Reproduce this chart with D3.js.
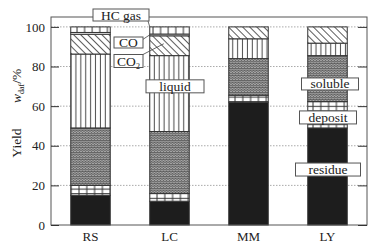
<!DOCTYPE html>
<html><head><meta charset="utf-8">
<script src="https://cdn.jsdelivr.net/npm/d3@7"></script>
<style>body{margin:0;background:#fff}svg{display:block}svg text{font-family:"Liberation Serif","Times New Roman",serif !important;fill:#222}</style>
</head><body>
<script>
const categories = ["RS", "LC", "MM", "LY"];
const components = ["residue", "deposit", "soluble", "liquid", "CO2", "CO", "HC gas"];
const residue = [15, 12, 62, 49];
const deposit = [5, 4, 3.5, 13.3];
const soluble = [29, 31.2, 18.5, 23.2];
const liquid = [37.3, 38.3, 10, 6.3];
const co2 = [10, 10, 6, 8.2];
const co = [0.9, 0.9, 0, 0];
const hcGas = [2.8, 3.6, 0, 0];
const yTicks = [0, 20, 40, 60, 80, 100];

const FONT = "Liberation Serif";
const W = 379, H = 250;
const m = {l: 51, r: 12, t: 17, b: 25};
const svg = d3.select("body").append("svg").attr("width", W).attr("height", H).attr("font-family", FONT);
const defs = svg.append("defs");

// patterns
const pv = defs.append("pattern").attr("id","p-liquid").attr("patternUnits","userSpaceOnUse").attr("width",4.9).attr("height",10);
pv.append("rect").attr("width",4.9).attr("height",10).attr("fill","#fff");
pv.append("line").attr("x1",2.4).attr("x2",2.4).attr("y1",0).attr("y2",10).attr("stroke","#333").attr("stroke-width",0.9);

const pd = defs.append("pattern").attr("id","p-co2").attr("patternUnits","userSpaceOnUse").attr("width",5).attr("height",5).attr("patternTransform","rotate(-45)");
pd.append("rect").attr("width",5).attr("height",5).attr("fill","#fff");
pd.append("line").attr("x1",2.5).attr("x2",2.5).attr("y1",0).attr("y2",5).attr("stroke","#333").attr("stroke-width",0.8);

const pb = defs.append("pattern").attr("id","p-deposit").attr("patternUnits","userSpaceOnUse").attr("width",7.8).attr("height",4.6);
pb.append("rect").attr("width",7.8).attr("height",4.6).attr("fill","#fff");
pb.append("line").attr("x1",0).attr("x2",7.8).attr("y1",0.5).attr("y2",0.5).attr("stroke","#333").attr("stroke-width",1);
pb.append("line").attr("x1",1).attr("x2",1).attr("y1",0).attr("y2",4.6).attr("stroke","#333").attr("stroke-width",1);

const ph = defs.append("pattern").attr("id","p-hc").attr("patternUnits","userSpaceOnUse").attr("width",7.6).attr("height",10);
ph.append("rect").attr("width",7.6).attr("height",10).attr("fill","#fff");
ph.append("line").attr("x1",1).attr("x2",1).attr("y1",0).attr("y2",10).attr("stroke","#333").attr("stroke-width",1);

const ps = defs.append("pattern").attr("id","p-soluble").attr("patternUnits","userSpaceOnUse").attr("width",3).attr("height",2.4);
ps.append("rect").attr("width",3).attr("height",2.4).attr("fill","#b0b0b0");
ps.append("path").attr("d","M0,1.9 L1.5,0.6 L3,1.9").attr("fill","none").attr("stroke","#4a4a4a").attr("stroke-width",0.9);

const fills = {"residue":"#1d1d1d","deposit":"url(#p-deposit)","soluble":"url(#p-soluble)","liquid":"url(#p-liquid)","CO2":"url(#p-co2)","CO":"#fff","HC gas":"url(#p-hc)"};

const x = d3.scaleBand().domain(categories).range([m.l, W - m.r]).paddingInner(0.5).paddingOuter(0.25);
const y = d3.scaleLinear().domain([0, 105]).range([H - m.b, m.t]);

// gridlines
svg.append("g").selectAll("line").data(yTicks.filter(d => d > 0)).join("line")
  .attr("x1", m.l).attr("x2", W - m.r).attr("y1", d => y(d)).attr("y2", d => y(d))
  .attr("stroke", "#aaa").attr("stroke-width", 1).attr("stroke-dasharray", "1.5,1.5");

// stacked data
const table = categories.map((c, i) => ({cat: c, "residue": residue[i], "deposit": deposit[i], "soluble": soluble[i], "liquid": liquid[i], "CO2": co2[i], "CO": co[i], "HC gas": hcGas[i]}));
const series = d3.stack().keys(components)(table);

svg.append("g").selectAll("g").data(series).join("g")
  .attr("fill", s => fills[s.key])
  .selectAll("rect").data(s => s.filter(d => d[1] - d[0] > 0)).join("rect")
  .attr("x", d => x(d.data.cat)).attr("width", x.bandwidth())
  .attr("y", d => y(d[1])).attr("height", d => y(d[0]) - y(d[1]))
  .attr("stroke", "#333").attr("stroke-width", 1);

// frame
svg.append("rect").attr("x", m.l).attr("y", m.t).attr("width", W - m.l - m.r).attr("height", H - m.t - m.b)
  .attr("fill", "none").attr("stroke", "#555").attr("stroke-width", 1);

// axes
const ya = svg.append("g").attr("transform", `translate(${m.l},0)`)
  .call(d3.axisLeft(y).tickValues(yTicks).tickSize(-8).tickPadding(6));
ya.attr("font-family", FONT);
ya.select(".domain").remove();
ya.selectAll("line").attr("stroke", "#333");
ya.selectAll("text").attr("font-size", 13).attr("font-family", FONT).attr("fill", "#222");
const yr = svg.append("g").attr("transform", `translate(${W - m.r},0)`)
  .call(d3.axisRight(y).tickValues(yTicks).tickSize(-9).tickFormat(""));
yr.select(".domain").remove();
yr.selectAll("line").attr("stroke", "#333");

const xa = svg.append("g").attr("transform", `translate(0,${H - m.b})`)
  .call(d3.axisBottom(x).tickSize(0).tickPadding(7));
xa.attr("font-family", FONT);
xa.select(".domain").remove();
xa.selectAll("text").attr("font-size", 13).attr("font-family", FONT).attr("fill", "#222");

// y title
svg.append("text").attr("transform", `translate(21,${143}) rotate(-90)`).attr("text-anchor", "middle")
  .attr("font-size", 13.5).attr("font-family", FONT).text("Yield");
const wt = svg.append("text").attr("transform", `translate(21,${103}) rotate(-90)`).attr("text-anchor", "start").attr("font-size", 13.5).attr("font-family", FONT);
wt.append("tspan").attr("font-style", "italic").text("w");
wt.append("tspan").attr("font-size", 8).attr("dy", 3).text("daf");
wt.append("tspan").attr("dy", -3).text("/%");

// annotations
const bw = x.bandwidth();
const cx = c => x(c) + bw / 2;
function box(label, xc, yc, w, h, sub) {
  svg.append("rect").attr("x", xc - w / 2).attr("y", yc - h / 2).attr("width", w).attr("height", h)
    .attr("fill", "#fff").attr("stroke", "#555").attr("stroke-width", 1);
  const t = svg.append("text").attr("x", xc).attr("y", yc + 4.5).attr("text-anchor", "middle").attr("font-size", 13.5).attr("font-family", FONT);
  t.append("tspan").text(label);
  if (sub) t.append("tspan").attr("font-size", 8).attr("dy", 3).text(sub);
}
function leader(x1, y1, x2, y2) {
  svg.append("line").attr("x1", x1).attr("y1", y1).attr("x2", x2).attr("y2", y2).attr("stroke", "#444").attr("stroke-width", 0.8);
}
const lcL = x("LC");
leader(148, 21, lcL, y(100));
leader(142, 40, lcL, y(96));
leader(142, 55, lcL + 14, y(91.5));
box("HC gas", 121, 15, 56, 12);
box("CO", 128.5, 42.5, 29, 11);
box("CO", 128.5, 61, 29, 13, "2");
box("liquid", cx("LC") + 5.5, y(70), 58, 13);
box("soluble", cx("LY") + 2.5, y(71.2), 57, 12);
box("deposit", cx("LY") + 0.5, y(54.3), 57, 13);
box("residue", cx("LY") + 0.5, y(28), 65, 13);
</script>
</body></html>
